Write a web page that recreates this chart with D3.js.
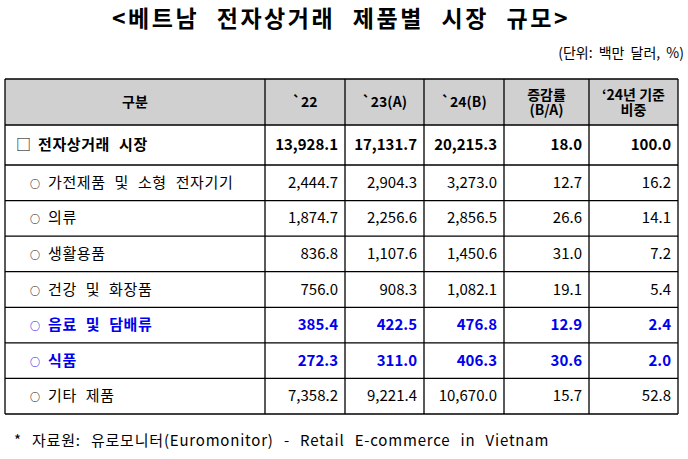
<!DOCTYPE html><html><head><meta charset="utf-8"><script src="https://d3js.org/d3.v7.min.js"></script>
<style>body{margin:0;background:#fff}text{font-family:"Noto Sans CJK KR",sans-serif}</style></head><body><svg id="c" width="688" height="459"></svg>
<script>
const headers=["구분","`22","`23(A)","`24(B)","증감률\n(B/A)","‘24년 기준\n비중"];
const markers=["□","○","○","○","○","○","○","○"];
const categories=["전자상거래 시장","가전제품 및 소형 전자기기","의류","생활용품","건강 및 화장품","음료 및 담배류","식품","기타 제품"];
const v22=["13,928.1","2,444.7","1,874.7","836.8","756.0","385.4","272.3","7,358.2"];
const v23=["17,131.7","2,904.3","2,256.6","1,107.6","908.3","422.5","311.0","9,221.4"];
const v24=["20,215.3","3,273.0","2,856.5","1,450.6","1,082.1","476.8","406.3","10,670.0"];
const growth=["18.0","12.7","26.6","31.0","19.1","12.9","30.6","15.7"];
const share=["100.0","16.2","14.1","7.2","5.4","2.4","2.0","52.8"];
const bold=[true,false,false,false,false,true,true,false];
const blue=[false,false,false,false,false,true,true,false];
const svg=d3.select("#c");
const colX=[5,265,345,424,504,589,678];
svg.append("text").attr("x",341).attr("y",27).attr("text-anchor","middle").attr("font-size",23).attr("font-weight","bold").attr("letter-spacing",2.5).attr("word-spacing",10).text("<베트남 전자상거래 제품별 시장 규모>");
svg.append("text").attr("x",684).attr("y",58).attr("text-anchor","end").attr("font-size",14).attr("word-spacing",3).text("(단위: 백만 달러, %)");
const hTop=79,hBot=125,r1=165,bot=414;
const y=d3.scaleBand().domain(d3.range(1,8)).range([r1,bot]);
const rowTop=i=>i===0?hBot:y(i), rowH=i=>i===0?r1-hBot:y.bandwidth();
svg.append("rect").attr("x",5).attr("y",hTop).attr("width",673).attr("height",hBot-hTop).attr("fill","#d0d0d0");
headers.forEach((h,j)=>{const lines=h.split("\n");const cx=(colX[j]+colX[j+1])/2;
 lines.forEach((l,k)=>svg.append("text").attr("x",cx).attr("y",(hTop+hBot)/2+5+(k-(lines.length-1)/2)*15).attr("text-anchor","middle").attr("font-size",14).attr("font-weight","bold").text(l));});
categories.forEach((c,i)=>{const cy=rowTop(i)+rowH(i)/2+5;const fw=bold[i]?"bold":"normal";const fill=blue[i]?"#0000ee":"#000";
 svg.append("text").attr("x",i===0?16:30).attr("y",cy).attr("font-size",i===0?15:10).attr("fill",fill).attr("font-weight",i===0?"normal":"bold").text(markers[i]);
 svg.append("text").attr("x",i===0?38:48).attr("y",cy).attr("font-size",15).attr("font-weight",fw).attr("fill",fill).attr("letter-spacing",0.6).attr("word-spacing",5).text(c);
 [v22,v23,v24,growth,share].forEach((arr,j)=>svg.append("text").attr("x",colX[j+2]-7).attr("y",cy).attr("text-anchor","end").attr("font-size",15).attr("font-weight",fw).attr("fill",fill).text(arr[i]));
 svg.append("line").attr("x1",5).attr("x2",678).attr("y1",rowTop(i)+rowH(i)).attr("y2",rowTop(i)+rowH(i)).attr("stroke","#000").attr("stroke-width",1.3);
});
[hTop,hBot].forEach(v=>svg.append("line").attr("x1",5).attr("x2",678).attr("y1",v).attr("y2",v).attr("stroke","#000").attr("stroke-width",1.3));
colX.forEach(x=>svg.append("line").attr("x1",x).attr("x2",x).attr("y1",hTop).attr("y2",bot).attr("stroke","#000").attr("stroke-width",1.3));
svg.append("text").attr("x",14).attr("y",446).attr("font-size",15).attr("letter-spacing",0.8).attr("word-spacing",6).text("* 자료원: 유로모니터(Euromonitor) - Retail E-commerce in Vietnam");
</script></body></html>
